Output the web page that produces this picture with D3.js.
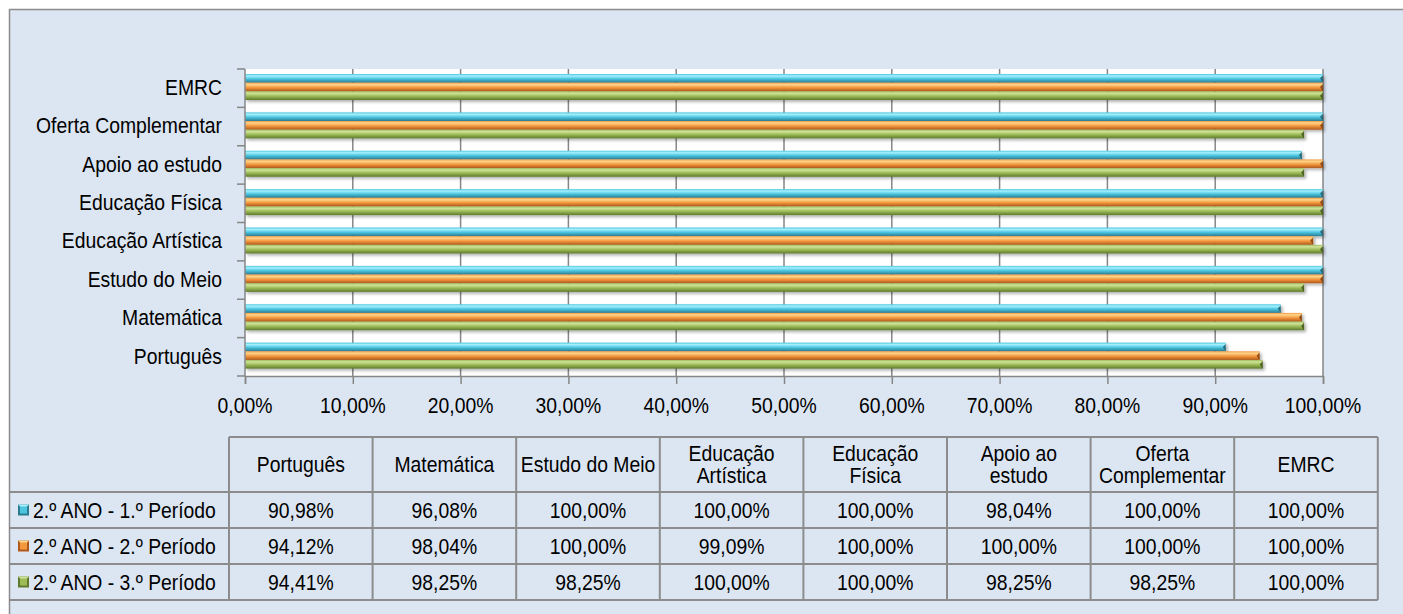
<!DOCTYPE html>
<html><head><meta charset="utf-8">
<script src="https://cdn.jsdelivr.net/npm/d3@7"></script>
<style>body{margin:0;background:#fff;} svg{display:block;} text{font-family:"Liberation Sans",Arial,sans-serif;fill:#000;}</style>
</head><body>
<svg id="c" width="1403" height="614"></svg>
<script>
const categories = ["Português","Matemática","Estudo do Meio","Educação Artística","Educação Física","Apoio ao estudo","Oferta Complementar","EMRC"];
const headerLines = [["Português"],["Matemática"],["Estudo do Meio"],["Educação","Artística"],["Educação","Física"],["Apoio ao","estudo"],["Oferta","Complementar"],["EMRC"]];
const seriesNames = ["2.º ANO - 1.º Período","2.º ANO - 2.º Período","2.º ANO - 3.º Período"];
const periodo1 = [90.98, 96.08, 100.00, 100.00, 100.00, 98.04, 100.00, 100.00];
const periodo2 = [94.12, 98.04, 100.00, 99.09, 100.00, 100.00, 100.00, 100.00];
const periodo3 = [94.41, 98.25, 98.25, 100.00, 100.00, 98.25, 98.25, 100.00];
const xTicks = [0,10,20,30,40,50,60,70,80,90,100];

const series = [periodo1, periodo2, periodo3];
const colors = [
  {hi:"#a6f0fc", mid:"#4cc6e0", lo:"#2a7a90", end:"#1d5868"},
  {hi:"#fdd68e", mid:"#f5993f", lo:"#b0581a", end:"#7a3a0c"},
  {hi:"#cfe39a", mid:"#9dbc58", lo:"#5e7a2c", end:"#3c4e18"}
];
const fmt = v => v.toFixed(2).replace(".", ",") + "%";
const FS = 21.5, SX = 0.9;

function txt(parent, x, y, s, anchor){
  const g = parent.append("g").attr("transform",`translate(${x},${y}) scale(${SX},1)`);
  g.append("text").attr("x",0).attr("y",0).attr("dy","0.36em").attr("font-size",FS)
    .attr("text-anchor",anchor||"start").text(s);
  return g;
}

const svg = d3.select("#c");
const defs = svg.append("defs");
colors.forEach((c,i)=>{
  const g = defs.append("linearGradient").attr("id","g"+i).attr("x1",0).attr("y1",0).attr("x2",0).attr("y2",1);
  g.append("stop").attr("offset","0%").attr("stop-color",c.mid);
  g.append("stop").attr("offset","22%").attr("stop-color",c.hi);
  g.append("stop").attr("offset","55%").attr("stop-color",c.mid);
  g.append("stop").attr("offset","100%").attr("stop-color",c.lo);
});
const f = defs.append("filter").attr("id","sh").attr("x","-5%").attr("y","-50%").attr("width","110%").attr("height","220%");
f.append("feDropShadow").attr("dx",2).attr("dy",2).attr("stdDeviation",1.5).attr("flood-color","#000").attr("flood-opacity",0.3);

// frame
svg.append("rect").attr("x",9.5).attr("y",9.5).attr("width",1420).attr("height",620)
  .attr("fill","#dce6f2").attr("stroke","#8c8c8c").attr("stroke-width",1.5);

const L = 245, R = 1323, T = 69, B = 376;
const x = d3.scaleLinear().domain([0,100]).range([L,R]);
const y = d3.scaleBand().domain(categories.slice().reverse()).range([T,B]);
const yi = d3.scaleBand().domain([0,1,2]).range([5,31]);

svg.append("rect").attr("x",L).attr("y",T).attr("width",R-L).attr("height",B-T).attr("fill","#fff");

// x axis
const gx = svg.append("g").attr("transform",`translate(0,${B})`)
  .call(d3.axisBottom(x).tickValues(xTicks).tickSize(8).tickFormat(""));
gx.select(".domain").attr("stroke","#868686").attr("stroke-width",1.5);
gx.selectAll(".tick line").attr("stroke","#868686").attr("stroke-width",1.5);
gx.selectAll(".tick text").remove();
const xl = svg.append("g");
xTicks.forEach(t=>txt(xl, x(t), 405, fmt(t), "middle"));
svg.append("g").selectAll("line").data(xTicks.slice(1)).join("line")
  .attr("x1",d=>x(d)).attr("x2",d=>x(d)).attr("y1",T).attr("y2",B)
  .attr("stroke","#868686").attr("stroke-width",1.5);

// bars
series.forEach((vals,si)=>{
  const g = svg.append("g").attr("filter","url(#sh)");
  g.selectAll("rect").data(categories).join("rect")
    .attr("x",L).attr("y",(d)=>y(d)+yi(si)).attr("height",yi.bandwidth())
    .attr("width",(d,i)=>x(vals[i])-L).attr("fill",`url(#g${si})`);
  svg.append("g").selectAll("path").data(categories).join("path")
    .attr("d",(d,i)=>{const xe=x(vals[i]), y0=y(d)+yi(si), h=yi.bandwidth();
      return `M${xe-3},${y0+h*0.5} L${xe},${y0+1} L${xe},${y0+h} Z`;})
    .attr("fill",colors[si].end).attr("opacity",0.8);
});

// y axis
const gy = svg.append("g").attr("transform",`translate(${L},0)`);
gy.append("line").attr("x1",0).attr("x2",0).attr("y1",T).attr("y2",B).attr("stroke","#868686").attr("stroke-width",1.5);
const bounds = categories.map(c=>y(c)).concat([B]);
gy.selectAll("line.t").data(bounds).join("line").attr("class","t")
  .attr("x1",-8).attr("x2",0).attr("y1",d=>d).attr("y2",d=>d).attr("stroke","#868686").attr("stroke-width",1.5);
const yl = svg.append("g");
categories.forEach(c=>txt(yl, 222, y(c)+y.bandwidth()/2-1, c, "end"));

// data table
const colX = d3.range(9).map(i=>229 + i*143.6);
const rowY = [437, 492, 528, 564, 600];
const tb = svg.append("g");
const lc = "#8c8c8c";
tb.append("line").attr("x1",colX[0]).attr("x2",colX[8]).attr("y1",rowY[0]).attr("y2",rowY[0]).attr("stroke",lc).attr("stroke-width",2);
rowY.slice(1).forEach(yy=>tb.append("line").attr("x1",10).attr("x2",colX[8]).attr("y1",yy).attr("y2",yy).attr("stroke",lc).attr("stroke-width",2));
colX.forEach(xx=>tb.append("line").attr("x1",xx).attr("x2",xx).attr("y1",rowY[0]).attr("y2",rowY[4]).attr("stroke",lc).attr("stroke-width",2));

headerLines.forEach((lines,i)=>{
  const cx = (colX[i]+colX[i+1])/2;
  const cy = (rowY[0]+rowY[1])/2;
  lines.forEach((ln,j)=>txt(tb, cx, cy + (j-(lines.length-1)/2)*22, ln, "middle"));
});
series.forEach((vals,si)=>{
  const cy = (rowY[si+1]+rowY[si+2])/2;
  const ic = tb.append("g");
  ic.append("rect").attr("x",18).attr("y",cy-5.5).attr("width",11).attr("height",11).attr("fill",colors[si].lo);
  ic.append("path").attr("d",`M18,${cy-5.5} L29,${cy-5.5} L23.5,${cy} Z`).attr("fill",colors[si].hi);
  ic.append("rect").attr("x",20).attr("y",cy-3.5).attr("width",7).attr("height",7).attr("fill",colors[si].mid);
  txt(tb, 33, cy, seriesNames[si], "start");
  vals.forEach((v,i)=>txt(tb, (colX[i]+colX[i+1])/2, cy, fmt(v), "middle"));
});
</script>
</body></html>
